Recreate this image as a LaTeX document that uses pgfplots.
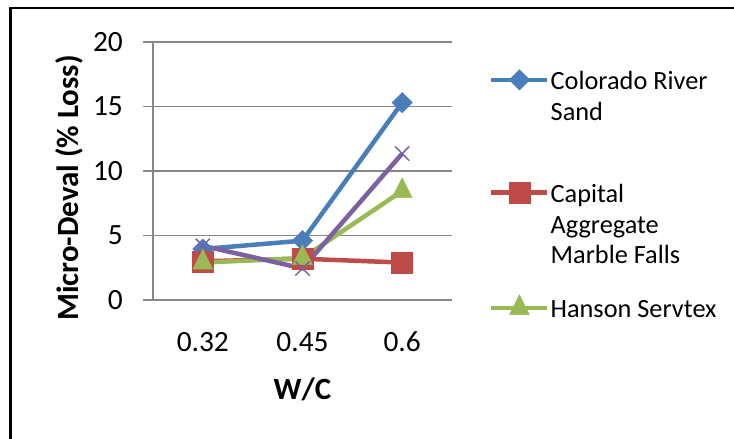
\documentclass[border=0pt]{standalone}
\usepackage{pgfplots}
\pgfplotsset{compat=1.18}
\usepackage{fontspec}
\setmainfont{Carlito}
\definecolor{cblue}{HTML}{4A7EBB}
\definecolor{cred}{HTML}{BE4B48}
\definecolor{cgreen}{HTML}{98B954}
\definecolor{cpurple}{HTML}{7D60A0}
\definecolor{gridgray}{HTML}{868686}
\begin{document}
\begin{tikzpicture}[x=1bp,y=1bp]
\begin{axis}[
  scale only axis, width=299bp, height=258bp,
  xmin=-0.5, xmax=2.5, ymin=0, ymax=20,
  xtick={0,1,2}, xticklabels={0.32,0.45,0.6},
  ytick={0,5,10,15,20},
  axis x line*=bottom, axis y line*=left,
  axis line style={draw=gridgray, line width=1.8bp, -},
  ymajorgrids, grid style={draw=gridgray, line width=1.8bp},
  major tick length=10bp,
  xtick align=inside, ytick align=outside,
  xtick style={draw=none},
  ytick style={draw=gridgray, line width=1.5bp},
  /pgf/number format/assume math mode=true,
  ticklabel style={font=\fontsize{29.5}{35}\selectfont, text=black},
  yticklabel style={anchor=east, inner sep=0pt, xshift=-20bp},
  xticklabel style={anchor=base, inner sep=0pt, yshift=-52bp},
  every axis x label/.style={at={(axis description cs:0.5,0)}, anchor=base, yshift=-100bp, font=\bfseries\fontsize{31}{37}\selectfont},
  every axis y label/.style={at={(axis description cs:-0.2508,0.434)}, rotate=90, anchor=base, font=\bfseries\fontsize{31}{37}\selectfont},
  xlabel={W/C},
  ylabel={Micro-Deval (\% Loss)},
  clip=false,
  legend image code/.code={%
    \draw[#1, yshift=9.5bp, mark repeat=2, mark phase=2] plot coordinates {(0bp,0bp) (28bp,0bp) (56bp,0bp)};},
  legend style={at={(axis description cs:1.1237,0.8934)}, anchor=north west, draw=none, fill=none,
    inner sep=0pt, row sep=0pt, column sep=1bp,
    font=\fontsize{26.4}{31}\selectfont,
    nodes={inner sep=0pt, text depth=, anchor=base west},
    cells={anchor=base west}},
  legend cell align=left,
]
\addplot[cblue, line width=4.5bp, mark=square*, mark size=7.2bp, mark options={rotate=45, line width=0.5bp, fill=cblue}]
  coordinates {(0,3.95) (1,4.6) (2,15.3)};
\addplot[cred, line width=4.5bp, mark=square*, mark size=10.5bp, mark options={line width=0.5bp, fill=cred}]
  coordinates {(0,3.0) (1,3.2) (2,2.9)};
\addplot[cgreen, line width=4.5bp, mark=triangle*, mark size=11.5bp, mark options={line width=0.5bp, fill=cgreen, yscale=1.15}]
  coordinates {(0,2.9) (1,3.25) (2,8.45)};
\addplot[cpurple, line width=4.5bp, mark=x, mark size=10bp, mark options={line width=1.5bp}]
  coordinates {(0,4.2) (1,2.45) (2,11.35)};
\legend{\parbox[t][111bp][t]{180bp}{Colorado River\\Sand},
        \parbox[t][111bp][t]{180bp}{Capital\\Aggregate\\Marble Falls},
        \parbox[t][111bp][t]{180bp}{Hanson Servtex}}
\end{axis}
\begin{scope}
\clip (-153,-139) rectangle (581,300);
\draw[line width=2.2bp] (-142.5,-150) -- (-142.5,292) -- (600,292);
\end{scope}
\pgfresetboundingbox
\useasboundingbox (-153,-139) rectangle (581,300);
\end{tikzpicture}
\end{document}
